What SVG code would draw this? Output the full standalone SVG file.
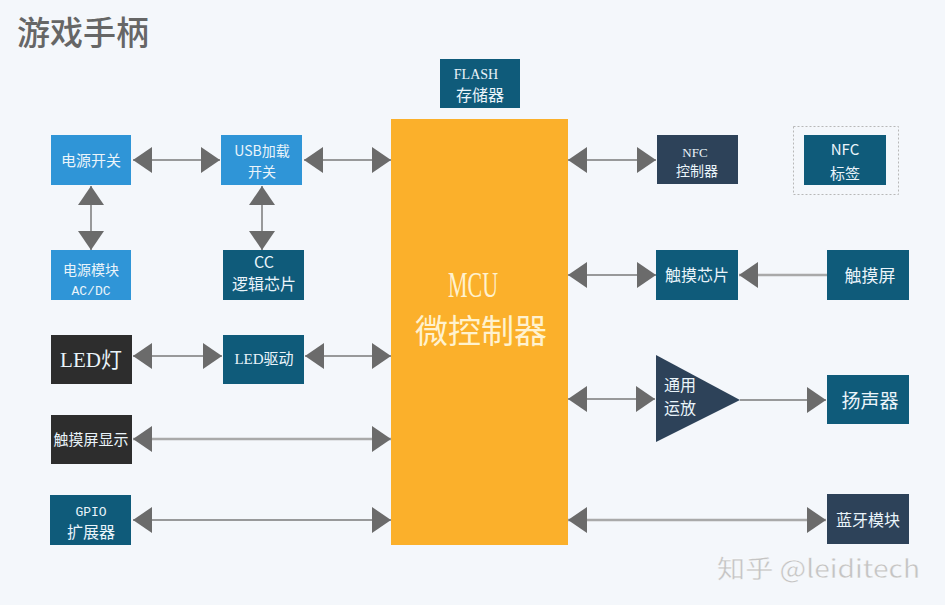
<svg xmlns="http://www.w3.org/2000/svg" width="945" height="605" viewBox="0 0 945 605">
<style>
.sans{font-family:"Noto Sans CJK SC","Noto Sans",sans-serif}
.serif{font-family:"Liberation Serif","Noto Sans CJK SC",serif}
.mono{font-family:"Liberation Mono","Noto Sans CJK SC",monospace}
.t{fill:#eaf4fa;text-anchor:middle}
.blue{fill:#2f95d7}
.teal{fill:#0f5b7a}
.navy{fill:#2d4259}
.dark{fill:#2d2d2d}
.ln{stroke:#7a7a7a;stroke-width:1.5;fill:none;marker-start:url(#ah);marker-end:url(#ah)}
.ln2{stroke:#a9a9a9;stroke-width:2.5;fill:none;marker-start:url(#ah);marker-end:url(#ah)}
.ln1{stroke:#7a7a7a;stroke-width:1.5;fill:none;marker-end:url(#ah)}
</style>
<defs>
<marker id="ah" markerUnits="userSpaceOnUse" markerWidth="19" markerHeight="26" refX="19" refY="13" orient="auto-start-reverse" viewBox="0 0 19 26">
<path d="M0,0 L19,13 L0,26 Z" fill="#6b6b6b"/>
</marker>
</defs>
<rect width="945" height="605" fill="#f4f7fb"/>
<text x="17" y="45" class="sans" font-size="33" font-weight="500" fill="#666">游戏手柄</text>

<g id="connectors">
<path class="ln" d="M133,160 H220"/>
<path class="ln" d="M304,160 H391"/>
<path class="ln" d="M91,186 V250"/>
<path class="ln" d="M262,186 V250"/>
<path class="ln" d="M133,356 H222"/>
<path class="ln" d="M305,356 H391"/>
<path class="ln2" d="M133,439 H391"/>
<path class="ln" d="M133,520 H391"/>
<path class="ln" d="M568,160 H656"/>
<path class="ln" d="M568,275 H656"/>
<path class="ln1" style="stroke:#a9a9a9;stroke-width:2.5" d="M827,275 H739"/>
<path class="ln" d="M568,399 H655"/>
<path class="ln1" d="M740,400 H826"/>
<path class="ln2" d="M568,520 H826"/>
</g>

<g id="flash">
<rect x="440" y="59" width="80" height="49" class="teal"/>
<text x="476" y="79" class="serif t" font-size="14">FLASH</text>
<text x="480" y="101" class="sans t" font-size="16">存储器</text>
</g>

<g id="mcu">
<rect x="391" y="119" width="177" height="426" fill="#fbb02b"/>
<text x="448" y="297" class="serif" font-size="35" fill="#fff2cf" textLength="50" lengthAdjust="spacingAndGlyphs">MCU</text>
<text x="481" y="343" class="sans" font-size="33" fill="#fff2cf" text-anchor="middle">微控制器</text>
</g>

<g id="power-switch">
<rect x="51" y="135" width="80" height="50" class="blue"/>
<text x="91" y="166" class="sans t" font-size="15">电源开关</text>
</g>

<g id="usb-switch">
<rect x="221" y="135" width="81" height="50" class="blue"/>
<text x="262" y="156" class="sans t" font-size="14">USB加载</text>
<text x="262" y="177" class="sans t" font-size="14">开关</text>
</g>

<g id="power-module">
<rect x="51" y="250" width="80" height="50" class="blue"/>
<text x="91" y="275" class="sans t" font-size="14">电源模块</text>
<text x="91" y="295" class="mono t" font-size="13">AC/DC</text>
</g>

<g id="cc-chip">
<rect x="223" y="250" width="81" height="50" class="teal"/>
<text x="264" y="268" class="sans t" font-size="16">CC</text>
<text x="264" y="290" class="sans t" font-size="16">逻辑芯片</text>
</g>

<g id="led">
<rect x="51" y="335" width="81" height="49" class="dark"/>
<text x="91" y="367" class="serif t" font-size="21">LED灯</text>
</g>

<g id="led-driver">
<rect x="223" y="335" width="81" height="49" class="teal"/>
<text x="264" y="364" class="serif t" font-size="15">LED驱动</text>
</g>

<g id="touch-display">
<rect x="51" y="415" width="81" height="49" class="dark"/>
<text x="91" y="445" class="sans t" font-size="15">触摸屏显示</text>
</g>

<g id="gpio">
<rect x="50" y="495" width="81" height="50" class="teal"/>
<text x="91" y="516" class="mono t" font-size="13">GPIO</text>
<text x="91" y="538" class="sans t" font-size="16">扩展器</text>
</g>

<g id="nfc-controller">
<rect x="657" y="135" width="81" height="49" class="navy"/>
<text x="695" y="157" class="serif t" font-size="13">NFC</text>
<text x="697" y="176" class="sans t" font-size="14">控制器</text>
</g>

<g id="nfc-tag">
<rect x="793.5" y="126.5" width="105" height="68" fill="none" stroke="#b8b8b8" stroke-width="1" stroke-dasharray="2,2"/>
<rect x="804" y="135" width="82" height="50" class="teal"/>
<text x="845" y="155" class="sans t" font-size="15">NFC</text>
<text x="845" y="179" class="sans t" font-size="15">标签</text>
</g>

<g id="touch-chip">
<rect x="656" y="250" width="82" height="50" class="teal"/>
<text x="697" y="281" class="sans t" font-size="16">触摸芯片</text>
</g>

<g id="touchscreen">
<rect x="827" y="250" width="82" height="50" class="teal"/>
<text x="870" y="282" class="sans t" font-size="17">触摸屏</text>
</g>

<g id="opamp">
<polygon points="656,355 740,400 656,442" class="navy"/>
<text x="664" y="391" class="sans" font-size="16" fill="#eaf4fa">通用</text>
<text x="664" y="414" class="sans" font-size="16" fill="#eaf4fa">运放</text>
</g>

<g id="speaker">
<rect x="827" y="375" width="82" height="49" class="teal"/>
<text x="870" y="408" class="sans t" font-size="19">扬声器</text>
</g>

<g id="bluetooth">
<rect x="827" y="494" width="82" height="50" class="navy"/>
<text x="868" y="526" class="sans t" font-size="16">蓝牙模块</text>
</g>

<text x="717" y="578" class="sans" font-size="25" fill="#c4c4c4" stroke="#ffffff" stroke-width="0.3" textLength="203" lengthAdjust="spacingAndGlyphs">知乎 @leiditech</text>
</svg>
